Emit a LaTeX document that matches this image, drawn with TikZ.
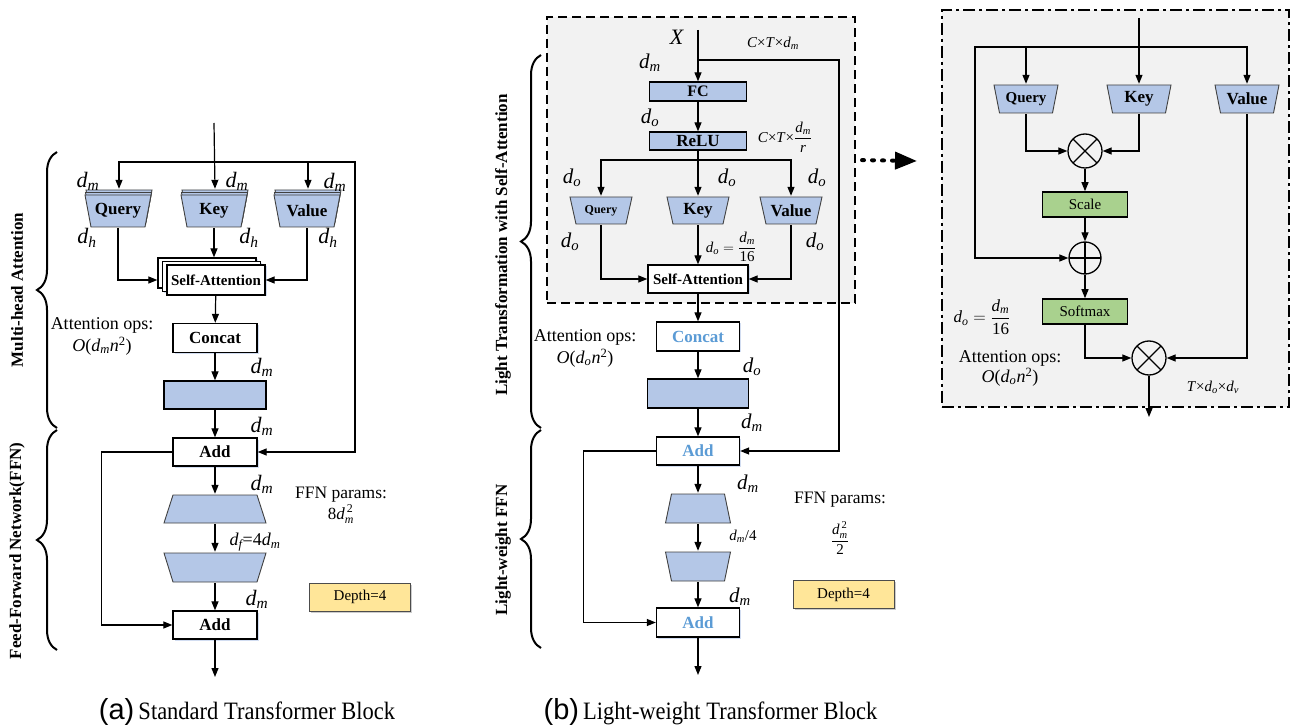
\documentclass[tikz,border=0pt]{standalone}
\usepackage{amsmath}
\usepackage{fontspec}
\setmainfont{Liberation Serif}
\setsansfont{Liberation Sans}
\newfontfamily\capfont[FakeStretch=0.9]{Liberation Serif}
\usetikzlibrary{arrows.meta,positioning,calc,shapes.geometric,decorations.pathreplacing,shadows}
\definecolor{qkvblue}{RGB}{180,199,231}
\definecolor{opgreen}{RGB}{169,209,142}
\definecolor{depthyellow}{RGB}{255,230,153}
\definecolor{bggray}{RGB}{242,242,242}
\definecolor{txtblue}{RGB}{91,155,213}
\newcommand{\fsz}[1]{\fontsize{#1}{#1}\selectfont}
\newcommand{\dsub}[1]{\ensuremath{\textit{d}_{\textit{#1}}}}

\begin{document}
\begin{tikzpicture}[x=1pt,y=-1pt,
      >={Triangle[length=9pt,width=7pt]},
      wire/.style={->,line width=1.2pt},
      wireplain/.style={line width=1.2pt},
      blk/.style={draw,line width=1.3pt,fill=white,inner sep=0pt,font=\bfseries\fsz{16},
        drop shadow={shadow xshift=1.5pt,shadow yshift=-1.5pt,fill=qkvblue,opacity=0.6}},
      lin/.style={draw,line width=1.3pt,fill=qkvblue,inner sep=0pt,font=\bfseries\fsz{16}},
      trp/.style 2 args={inner sep=0pt,font=\bfseries\fsz{17},path picture={
        \draw[fill=qkvblue,draw=black!75,line width=0.9pt]
          ([xshift=#1,yshift=-1pt]path picture bounding box.north west)
          -- ([xshift=-#1,yshift=-1pt]path picture bounding box.north east)
          -- ([xshift=-#2,yshift=1pt]path picture bounding box.south east)
          -- ([xshift=#2,yshift=1pt]path picture bounding box.south west) -- cycle;}},
      grn/.style={draw,line width=1.5pt,fill=opgreen,inner sep=0pt,minimum width=85pt,
        minimum height=25pt,font=\fsz{15}},
      depthbox/.style={draw=black!70,line width=1pt,fill=depthyellow,minimum width=101pt,
        minimum height=28pt,font=\fsz{15},
        drop shadow={shadow xshift=1.5pt,shadow yshift=-1.5pt,fill=black!40,opacity=0.5}},
      op/.style={circle,draw,line width=1.3pt,inner sep=0pt,minimum size=34pt},
      mulop/.style={op,path picture={\draw[line width=1.3pt]
        (path picture bounding box.south west)--(path picture bounding box.north east)
        (path picture bounding box.north west)--(path picture bounding box.south east);}},
      sumop/.style={op,minimum size=32pt,path picture={\draw[line width=1.3pt]
        (path picture bounding box.north)--(path picture bounding box.south)
        (path picture bounding box.west)--(path picture bounding box.east);}},
      lbl/.style={font=\fsz{21},inner sep=0pt},
      note/.style={font=\fsz{18},inner sep=0pt,align=center},
      brc/.style={decorate,decoration={brace,amplitude=20pt},line width=2pt},
      sidelbl/.style={rotate=90,font=\bfseries\fsz{17}},
      captxt/.style={font=\capfont\fsz{25}}]
  \useasboundingbox (0,0) rectangle (1291,727);

  \node[draw,line width=2pt,dash pattern=on 9pt off 5pt,fill=bggray,minimum width=308pt,
    minimum height=286pt] (lt) at (701,160) {};
  \node[draw,line width=2pt,dash pattern=on 12pt off 4pt on 3pt off 4pt,fill=bggray,
    minimum width=347pt,minimum height=397pt] (att) at (1115.5,208.5) {};

  \coordinate (ina) at (214,123);
  \coordinate (ba) at (214,162);
  \coordinate (ra) at (355,162);
  \node[trp={1pt}{7pt},minimum width=68pt,minimum height=34pt] (qa2) at (119,206) {};
  \node[trp={1pt}{7pt},minimum width=68pt,minimum height=34pt] (qa1) at (118.5,208.5) {};
  \node[trp={1pt}{7pt},minimum width=68pt,minimum height=34pt] (qa) at (118,211) {Query};
  \node[trp={1pt}{7pt},minimum width=68pt,minimum height=34pt] (ka2) at (215,206) {};
  \node[trp={1pt}{7pt},minimum width=68pt,minimum height=34pt] (ka1) at (214.5,208.5) {};
  \node[trp={1pt}{7pt},minimum width=68pt,minimum height=34pt] (ka) at (214,211) {Key};
  \node[trp={1pt}{7pt},minimum width=68pt,minimum height=34pt] (va2) at (308,206) {};
  \node[trp={1pt}{7pt},minimum width=68pt,minimum height=34pt] (va1) at (307.5,208.5) {};
  \node[trp={1pt}{7pt},minimum width=68pt,minimum height=34pt] (va) at (307,211) {Value};
  \node[blk,font=\bfseries\fsz{15},minimum width=98pt,minimum height=30pt] (sa3) at (207,273) {};
  \node[blk,font=\bfseries\fsz{15},minimum width=98pt,minimum height=30pt] (sa2) at (211.5,276.5) {};
  \node[blk,font=\bfseries\fsz{15},minimum width=98pt,minimum height=30pt] (sa) at (216,280) {Self-Attention};
  \node[blk,font=\bfseries\fsz{17},minimum width=84pt,minimum height=29pt] (ca) at (215,338) {Concat};
  \node[lin,minimum width=102pt,minimum height=28pt] (la) at (215,395) {};
  \node[blk,font=\bfseries\fsz{17},minimum width=84pt,minimum height=28pt] (adda1) at (215,452) {Add};
  \node[trp={10pt}{1pt},minimum width=104pt,minimum height=30pt] (fa1) at (215,509) {};
  \node[trp={1pt}{10pt},minimum width=104pt,minimum height=31pt] (fa2) at (215,567.5) {};
  \node[blk,font=\bfseries\fsz{17},minimum width=84pt,minimum height=28pt] (adda2) at (215,625) {Add};
  \coordinate (outa) at (215,677);

  \draw[wire] (ina) -- (ka2.north);
  \draw[wire] (ba) -| (qa2.north);
  \draw[wire] (ba) -| (va2.north);
  \draw[wire] (ba) -- (ra) |- (adda1.east);
  \draw[wire] (qa.south) |- (sa3.west |- sa.west);
  \draw[wire] (ka.south) -- (ka.south |- sa3.north);
  \draw[wire] (va.south) |- (sa.east);
  \draw[wire] (sa) -- (ca);
  \draw[wire] (ca) -- (la);
  \draw[wire] (la) -- (adda1);
  \draw[wire] (adda1) -- (fa1);
  \draw[wire] (fa1) -- (fa2);
  \draw[wire] (fa2) -- (adda2);
  \draw[wire] (adda2) -- (outa);
  \draw[wire] (adda1.west) -- ++(-71,0) |- (adda2.west);

  \node[lbl,font=\fsz{22}] (dqa) at (88,181) {\dsub{m}};
  \node[lbl,font=\fsz{22}] (dka) at (237,181) {\dsub{m}};
  \node[lbl,font=\fsz{22}] (dva) at (335,182) {\dsub{m}};
  \node[lbl,font=\fsz{22}] (hqa) at (87,238) {\dsub{h}};
  \node[lbl,font=\fsz{22}] (hka) at (249,238) {\dsub{h}};
  \node[lbl,font=\fsz{22}] (hva) at (328,238) {\dsub{h}};
  \node[lbl,font=\fsz{22}] (da1) at (262,367) {\dsub{m}};
  \node[lbl,font=\fsz{22}] (da2) at (262,426) {\dsub{m}};
  \node[lbl,font=\fsz{22}] (da3) at (262,484) {\dsub{m}};
  \node[lbl,font=\fsz{18}] (da4) at (255,542) {\dsub{f}=4\dsub{m}};
  \node[lbl,font=\fsz{22}] (da5) at (257,599) {\dsub{m}};
  \node[note] (opsa) at (102,325) {Attention ops:};
  \node[note] (oa) at (102,346) {\textit{O}(\dsub{m}\textit{n}\textsuperscript{2})};
  \node[note,font=\fsz{17.5}] (ffna) at (341,495) {FFN params:};
  \node[note,font=\fsz{17}] (pa) at (341,514) {\ensuremath{\textup{8}\textit{d}_{\textit{m}}^{\,\textup{2}}}};
  \node[depthbox] (dpa) at (360,597) {Depth=4};
  \draw[brc] (57,428) -- (57,152);
  \draw[brc] (57,650) -- (57,430);
  \node[sidelbl] (mha) at (17,290) {Multi-head Attention};
  \node[sidelbl] (ffa) at (17,551) {Feed-Forward Network(FFN)};
  \node[captxt] (capa) at (247,712) {{\sffamily\fsz{29}(a)}\,Standard Transformer Block};

  \coordinate (inb) at (698,30);
  \coordinate (bb) at (698,60);
  \coordinate (rb) at (839,60);
  \coordinate (jb) at (698,160);
  \node[lin,minimum width=97pt,minimum height=19pt] (fc) at (698,91.5) {FC};
  \node[lin,font=\bfseries\fsz{17},minimum width=97pt,minimum height=18pt] (relu) at (698,141) {ReLU};
  \node[trp={1pt}{7pt},font=\bfseries\fsz{12},minimum width=64pt,minimum height=29pt] (qb) at (601,210.5) {Query};
  \node[trp={1pt}{7pt},minimum width=64pt,minimum height=29pt] (kb) at (698,210.5) {Key};
  \node[trp={1pt}{7pt},minimum width=64pt,minimum height=29pt] (vb) at (791,210.5) {Value};
  \node[blk,font=\bfseries\fsz{15},minimum width=100pt,minimum height=28pt] (sab) at (698,279) {Self-Attention};
  \node[blk,font=\bfseries\fsz{17},text=txtblue,minimum width=83pt,minimum height=29pt] (cb) at (698,336.5) {Concat};
  \node[lin,minimum width=101pt,minimum height=29pt] (lb) at (698,393.5) {};
  \node[blk,font=\bfseries\fsz{17},text=txtblue,minimum width=83pt,minimum height=28pt] (addb1) at (698,451) {Add};
  \node[trp={7pt}{1pt},minimum width=67pt,minimum height=31pt] (fb1) at (698,508.5) {};
  \node[trp={1pt}{7pt},minimum width=67pt,minimum height=31pt] (fb2) at (698,566.5) {};
  \node[blk,font=\bfseries\fsz{17},text=txtblue,minimum width=83pt,minimum height=29pt] (addb2) at (698,622.5) {Add};
  \coordinate (outb) at (698,675);

  \draw[wire] (inb) -- (fc.north);
  \draw[wire] (bb) -- (rb) |- (addb1.east);
  \draw[wire] (fc) -- (relu);
  \draw[wireplain] (relu.south) -- (jb);
  \draw[wire] (jb) -| (qb.north);
  \draw[wire] (jb) -| (vb.north);
  \draw[wire] (jb) -- (kb.north);
  \draw[wire] (qb.south) |- (sab.west);
  \draw[wire] (vb.south) |- (sab.east);
  \draw[wire] (kb) -- (sab);
  \draw[wire] (sab) -- (cb);
  \draw[wire] (cb) -- (lb);
  \draw[wire] (lb) -- (addb1);
  \draw[wire] (addb1) -- (fb1);
  \draw[wire] (fb1) -- (fb2);
  \draw[wire] (fb2) -- (addb2);
  \draw[wire] (addb2) -- (outb);
  \draw[wire] (addb1.west) -- ++(-72,0) |- (addb2.west);

  \node[lbl,font=\fsz{22}] (xb) at (677,37) {\textit{X}};
  \node[lbl,font=\fsz{15}] (ctd) at (773,43) {\textit{C}×\textit{T}×\dsub{m}};
  \node[lbl,font=\fsz{15}] (ctr) at (785,137) {\textit{C}×\textit{T}×\ensuremath{\dfrac{\dsub{m}}{\textit{r}}}};
  \node[lbl] (dmb0) at (650,63) {\dsub{m}};
  \node[lbl] (dob0) at (650,118) {\dsub{o}};
  \node[lbl] (do1) at (572,178) {\dsub{o}};
  \node[lbl] (do2) at (727,178) {\dsub{o}};
  \node[lbl] (do3) at (817,178) {\dsub{o}};
  \node[lbl] (do4) at (570,242) {\dsub{o}};
  \node[lbl] (do5) at (815,242) {\dsub{o}};
  \node[lbl,font=\fsz{15}] (do6) at (731,247) {\ensuremath{\dsub{o}=\dfrac{\dsub{m}}{\textup{16}}}};
  \node[note] (opsb) at (585,337) {Attention ops:};
  \node[note] (ob) at (585,358) {\textit{O}(\dsub{o}\textit{n}\textsuperscript{2})};
  \node[lbl] (db1) at (752,367) {\dsub{o}};
  \node[lbl] (db2) at (752,423) {\dsub{m}};
  \node[lbl] (db3) at (748,484) {\dsub{m}};
  \node[lbl,font=\fsz{15}] (db4) at (743,536) {\dsub{m}/4};
  \node[lbl] (db5) at (740,597) {\dsub{m}};
  \node[note,font=\fsz{17.5}] (ffnb) at (840,500) {FFN params:};
  \node[note,font=\fsz{15}] (pb) at (840,538) {\ensuremath{\dfrac{\textit{d}_{\textit{m}}^{\,\textup{2}}}{\textup{2}}}};
  \node[depthbox] (dpb) at (843.5,594.5) {Depth=4};
  \draw[brc] (541,428) -- (541,55);
  \draw[brc] (541,648) -- (541,430);
  \node[sidelbl] (ltb) at (503,245) {Light Transformation with Self-Attention};
  \node[sidelbl] (lfb) at (503,550) {Light-weight FFN};
  \node[captxt] (capb) at (710.5,712) {{\sffamily\fsz{29}(b)}\,Light-weight Transformer Block};

  \coordinate (dend) at (917,161);
  \draw[line width=4pt,dash pattern=on 2pt off 8pt,line cap=round,
    -{Triangle[length=22pt,width=17pt]},shorten <=6pt] (lt.east) -- (dend);

  \coordinate (inc) at (1139,18);
  \coordinate (bc) at (1139,47);
  \coordinate (lc) at (975,47);
  \node[trp={1pt}{6.5pt},font=\bfseries\fsz{15},minimum width=66pt,minimum height=30pt] (qc) at (1026,99) {Query};
  \node[trp={1pt}{6.5pt},minimum width=66pt,minimum height=30pt] (kc) at (1139,99) {Key};
  \node[trp={1pt}{6.5pt},minimum width=66pt,minimum height=30pt] (vc) at (1247,99) {Value};
  \node[mulop] (m1) at (1085,151) {};
  \node[grn] (sc) at (1085,204.5) {Scale};
  \node[sumop] (p1) at (1085,258) {};
  \node[grn] (sm) at (1085,311.5) {Softmax};
  \node[mulop] (m2) at (1149,358) {};
  \coordinate (outc) at (1149,417);

  \draw[wire] (inc) -- (kc.north);
  \draw[wire] (bc) -| (qc.north);
  \draw[wire] (bc) -| (vc.north);
  \draw[wire] (bc) -- (lc) |- (p1.west);
  \draw[wire] (qc.south) |- (m1.west);
  \draw[wire] (kc.south) |- (m1.east);
  \draw[wire] (m1) -- (sc);
  \draw[wire] (sc) -- (p1);
  \draw[wire] (p1) -- (sm);
  \draw[wire] (sm.south) |- (m2.west);
  \draw[wire] (vc.south) |- (m2.east);
  \draw[wire] (m2) -- (outc);

  \node[lbl,font=\fsz{17}] (doc) at (982,317) {\ensuremath{\dsub{o}=\dfrac{\dsub{m}}{\textup{16}}}};
  \node[note] (opsc) at (1010,358) {Attention ops:};
  \node[note] (oc) at (1010,377) {\textit{O}(\dsub{o}\textit{n}\textsuperscript{2})};
  \node[lbl,font=\fsz{15}] (tdd) at (1213,387) {\textit{T}×\dsub{o}×\dsub{v}};
\end{tikzpicture}
\end{document}
